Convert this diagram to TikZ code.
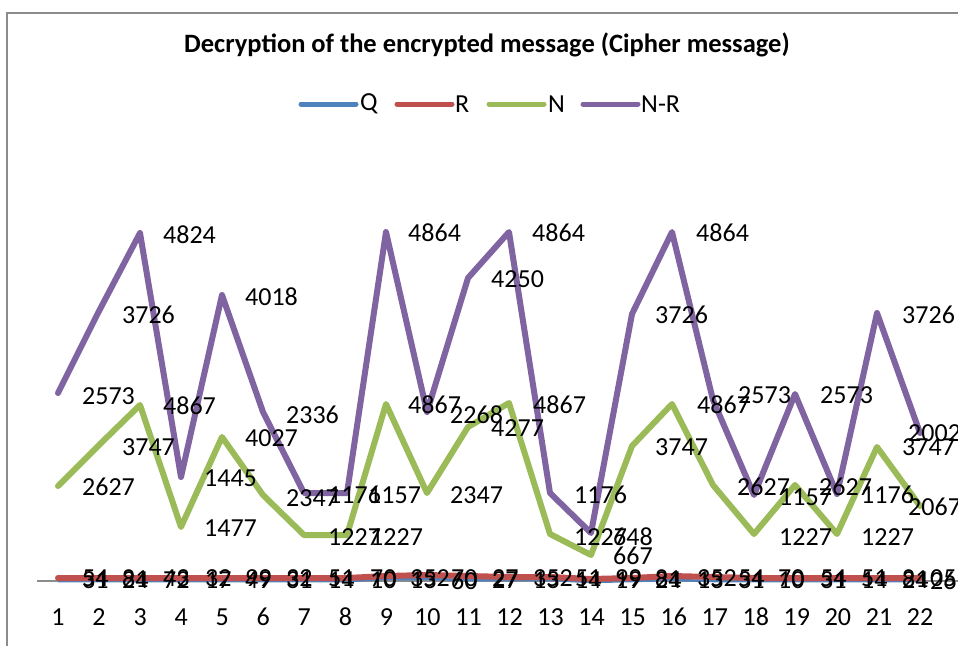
\documentclass[tikz,border=0pt]{standalone}
\usepackage{fontspec}
\setmainfont{Carlito}
\definecolor{qblue}{HTML}{4F81BD}
\definecolor{rred}{HTML}{C0504D}
\definecolor{ngreen}{HTML}{9BBB59}
\definecolor{nrpurple}{HTML}{8064A2}
\definecolor{framegray}{HTML}{8C8C8C}
\begin{document}
\begin{tikzpicture}[x=1pt, y=-1pt,
    serie/.style={draw=#1, line width=6pt, line join=round, line cap=round},
    keyline/.style={draw=#1, line width=5pt, line cap=round},
    keytxt/.style={anchor=west, inner sep=0pt, font=\fontsize{26}{26}\selectfont},
    val/.style={anchor=west, inner sep=0pt, font=\fontsize{26}{26}\selectfont},
    tick/.style={inner sep=0pt, font=\fontsize{26}{26}\selectfont}
]
\useasboundingbox (0,0) rectangle (958,646);

% Chart frame and axis
\draw[framegray, line width=1.5pt] (7,646) -- (7,13) -- (958,13);
\draw[framegray, line width=1.5pt] (37,581) -- (958,581);

% Title and legend
\node[font=\bfseries\fontsize{26.5}{26.5}\selectfont] (title) at (487,45) {Decryption of the encrypted message (Cipher message)};
\draw[keyline=qblue] (301,104) -- (356,104);
\node[keytxt] (keyq) at (360,104) {Q};
\draw[keyline=rred] (397,104) -- (452,104);
\node[keytxt] (keyr) at (455,104) {R};
\draw[keyline=ngreen] (489,104) -- (544,104);
\node[keytxt] (keyn) at (548,104) {N};
\draw[keyline=nrpurple] (583,104) -- (638,104);
\node[keytxt] (keynr) at (641,104) {N-R};

% Series Q and R
\draw[qblue, line width=2.5pt, line join=round] plot coordinates {(58,581) (98,581) (140,581) (181,581) (222,581) (263,581) (304,581) (347,581) (386,579) (427,579) (468,580) (509,580) (550,580) (591,582) (632,581) (672,580) (713,581) (754,581) (795,581) (837,581) (877,581) (920,581)};
\draw[serie=rred] plot coordinates {(58,578) (98,578) (140,578) (181,578) (222,578) (263,578) (304,578) (347,578) (386,576) (427,575) (468,576) (509,577) (550,577) (591,579) (632,578) (672,576) (713,577) (754,578) (795,578) (837,578) (877,578) (920,578)};

% Series N
\draw[serie=ngreen] plot coordinates {(58,486) (98,446) (140,405) (181,527) (222,437) (263,495) (304,535) (347,535) (386,404) (427,493) (468,427) (509,403) (550,534) (591,555) (632,446) (672,404) (713,485) (754,534) (795,485) (837,534) (877,447) (920,506)};

% Series N-R
\draw[serie=nrpurple] plot coordinates {(58,393) (98,313) (140,233) (181,477) (222,295) (263,412) (304,493) (347,493) (386,232) (427,412) (468,278) (509,232) (550,493) (591,533) (632,314) (672,232) (713,400) (754,495) (795,394) (837,494) (877,313) (920,433)};

% Data labels
\foreach \x/\y/\t [count=\k] in {163/235/4824, 122/315/3726, 245/297/4018, 408/233/4864,
    532/233/4864, 491/279/4250, 696/233/4864, 655/315/3726, 902/315/3726,
    82/396/2573, 738/395/2573, 820/395/2573, 163/406/4867, 286/415/2336,
    408/405/4867, 450/415/2268, 533/405/4867, 697/405/4867, 122/447/3747,
    245/438/4027, 491/428/4277, 655/447/3747, 902/447/3747, 908/433/2002,
    82/487/2627, 204/478/1445, 286/498/2347, 328/495/1176, 368/495/1157,
    450/495/2347, 574/495/1176, 737/487/2627, 779/497/1157, 819/487/2627,
    861/495/1176, 908/507/2067, 204/528/1477, 328/537/1227, 370/537/1227,
    574/537/1227, 613/537/648, 613/556/667, 779/537/1227, 861/537/1227}
  \node[val] (lbl\k) at (\x,\y) {\t};

% Labels of Q and R
\foreach \x/\r/\q [count=\k] in {82/54/31, 122/81/24, 163/43/72, 205/32/17, 245/99/49,
    286/32/31, 328/51/14, 370/70/10, 410/352/13, 451/70/60, 492/27/27,
    533/352/13, 575/51/14, 615/99/19, 655/81/24, 697/352/13, 738/54/31,
    778/70/10, 820/54/31, 861/51/14, 902/81/24, 930/05/26}
{
  \node[val] (rl\k) at (\x,578.5) {\r};
  \node[val] (ql\k) at (\x,580.5) {\q};
}

% Axis ticks
\foreach \i in {1,...,22}
  \node[tick] (tk\i) at ({58+41.05*(\i-1)},617) {\i};
\end{tikzpicture}
\end{document}
